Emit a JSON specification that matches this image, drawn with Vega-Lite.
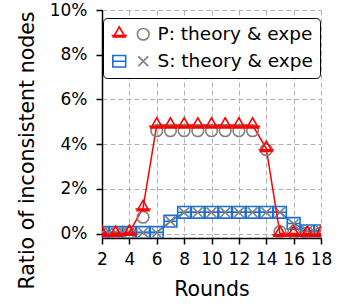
{
  "$schema": "https://vega.github.io/schema/vega-lite/v6.json",
  "width": 219,
  "height": 228,
  "autosize": {"type": "none"},
  "padding": {"left": 102, "top": 10, "right": 38, "bottom": 68},
  "background": "white",
  "config": {
    "view": {"stroke": null},
    "font": "DejaVu Sans",
    "axis": {
      "labelFont": "DejaVu Sans", "labelFontSize": 17, "labelColor": "black",
      "titleFont": "DejaVu Sans", "titleFontSize": 20.5, "titleFontWeight": "normal", "titleColor": "black",
      "domainColor": "black", "domainWidth": 1.5,
      "tickColor": "black", "tickWidth": 1.5, "tickSize": 6,
      "grid": true, "gridColor": "#b0b0b0", "gridDash": [5, 3], "gridWidth": 1
    }
  },
  "data": {
    "values": [
      {"round": 2, "value": 0.05, "series": "S theory"},
      {"round": 3, "value": 0.05, "series": "S theory"},
      {"round": 4, "value": 0.05, "series": "S theory"},
      {"round": 5, "value": 0.05, "series": "S theory"},
      {"round": 6, "value": 0.05, "series": "S theory"},
      {"round": 7, "value": 0.55, "series": "S theory"},
      {"round": 8, "value": 0.95, "series": "S theory"},
      {"round": 9, "value": 0.95, "series": "S theory"},
      {"round": 10, "value": 0.95, "series": "S theory"},
      {"round": 11, "value": 0.95, "series": "S theory"},
      {"round": 12, "value": 0.95, "series": "S theory"},
      {"round": 13, "value": 0.95, "series": "S theory"},
      {"round": 14, "value": 0.95, "series": "S theory"},
      {"round": 15, "value": 0.95, "series": "S theory"},
      {"round": 16, "value": 0.45, "series": "S theory"},
      {"round": 17, "value": 0.12, "series": "S theory"},
      {"round": 18, "value": 0.12, "series": "S theory"},
      {"round": 2, "value": 0.05, "series": "S expe"},
      {"round": 3, "value": 0.05, "series": "S expe"},
      {"round": 4, "value": 0.05, "series": "S expe"},
      {"round": 5, "value": 0.05, "series": "S expe"},
      {"round": 6, "value": 0.03, "series": "S expe"},
      {"round": 7, "value": 0.55, "series": "S expe"},
      {"round": 8, "value": 0.95, "series": "S expe"},
      {"round": 9, "value": 0.95, "series": "S expe"},
      {"round": 10, "value": 0.95, "series": "S expe"},
      {"round": 11, "value": 0.95, "series": "S expe"},
      {"round": 12, "value": 0.95, "series": "S expe"},
      {"round": 13, "value": 0.95, "series": "S expe"},
      {"round": 14, "value": 0.95, "series": "S expe"},
      {"round": 15, "value": 0.95, "series": "S expe"},
      {"round": 16, "value": 0.42, "series": "S expe"},
      {"round": 17, "value": 0.12, "series": "S expe"},
      {"round": 18, "value": 0.12, "series": "S expe"},
      {"round": 2, "value": 0.03, "series": "P expe"},
      {"round": 3, "value": 0.03, "series": "P expe"},
      {"round": 4, "value": 0.03, "series": "P expe"},
      {"round": 5, "value": 0.73, "series": "P expe"},
      {"round": 6, "value": 4.6, "series": "P expe"},
      {"round": 7, "value": 4.6, "series": "P expe"},
      {"round": 8, "value": 4.6, "series": "P expe"},
      {"round": 9, "value": 4.6, "series": "P expe"},
      {"round": 10, "value": 4.6, "series": "P expe"},
      {"round": 11, "value": 4.6, "series": "P expe"},
      {"round": 12, "value": 4.6, "series": "P expe"},
      {"round": 13, "value": 4.6, "series": "P expe"},
      {"round": 14, "value": 3.75, "series": "P expe"},
      {"round": 15, "value": 0.08, "series": "P expe"},
      {"round": 16, "value": 0.03, "series": "P expe"},
      {"round": 17, "value": 0.03, "series": "P expe"},
      {"round": 18, "value": 0.03, "series": "P expe"},
      {"round": 2, "value": 0.0, "series": "P theory"},
      {"round": 3, "value": 0.0, "series": "P theory"},
      {"round": 4, "value": 0.05, "series": "P theory"},
      {"round": 5, "value": 1.15, "series": "P theory"},
      {"round": 6, "value": 4.85, "series": "P theory"},
      {"round": 7, "value": 4.85, "series": "P theory"},
      {"round": 8, "value": 4.85, "series": "P theory"},
      {"round": 9, "value": 4.85, "series": "P theory"},
      {"round": 10, "value": 4.85, "series": "P theory"},
      {"round": 11, "value": 4.85, "series": "P theory"},
      {"round": 12, "value": 4.85, "series": "P theory"},
      {"round": 13, "value": 4.85, "series": "P theory"},
      {"round": 14, "value": 3.8, "series": "P theory"},
      {"round": 15, "value": 0.0, "series": "P theory"},
      {"round": 16, "value": 0.0, "series": "P theory"},
      {"round": 17, "value": 0.0, "series": "P theory"},
      {"round": 18, "value": 0.0, "series": "P theory"}
    ]
  },
  "encoding": {
    "x": {
      "field": "round", "type": "quantitative",
      "scale": {"domain": [2, 18], "nice": false, "zero": false},
      "axis": {"title": "Rounds", "values": [2, 4, 6, 8, 10, 12, 14, 16, 18], "labelPadding": 7, "labelFlush": false, "titleBaseline": "alphabetic", "titleY": 57}
    },
    "y": {
      "field": "value", "type": "quantitative",
      "scale": {"domain": [-0.2, 10], "nice": false, "zero": false},
      "axis": {
        "title": "Ratio of inconsistent nodes",
        "values": [0, 2, 4, 6, 8, 10],
        "labelExpr": "datum.value + '%'",
        "labelPadding": 9,
        "titleX": -69, "titleY": 140, "titleAngle": -90, "titleAlign": "center", "titleBaseline": "alphabetic"
      }
    }
  },
  "layer": [
    {
      "transform": [{"filter": "datum.series == 'S theory'"}],
      "mark": {"type": "line", "color": "#1a6fd0", "strokeWidth": 1.5, "clip": true},
      "encoding": {}
    },
    {
      "transform": [{"filter": "datum.series == 'S theory' || datum.series == 'S expe'"}],
      "mark": {"type": "point", "filled": false, "strokeWidth": 1.6, "size": 150, "clip": true, "opacity": 1},
      "encoding": {
        "color": {
          "field": "series", "type": "nominal",
          "scale": {"domain": ["P theory", "P expe", "S theory", "S expe"], "range": ["#ff0000", "#808080", "#1a6fd0", "#808080"]},
          "legend": {
            "orient": "none", "legendX": 1, "legendY": 8, "columns": 2, "direction": "horizontal", "title": null,
            "padding": 7, "rowPadding": 8, "columnPadding": 0, "labelOffset": 5, "gridAlign": "none",
            "labelFontSize": 18.5, "labelFont": "DejaVu Sans", "labelColor": "black", "labelLimit": 300,
            "symbolSize": 150, "symbolStrokeWidth": 1.6,
            "strokeColor": "black", "fillColor": "white", "cornerRadius": 4,
            "labelExpr": "datum.value == 'P expe' ? '\u2002P: theory & expe' : datum.value == 'S expe' ? '\u2002S: theory & expe' : ''",
            "encode": {"legend": {"update": {"strokeWidth": {"value": 1.5}}}}
          }
        },
        "shape": {
          "field": "series", "type": "nominal",
          "scale": {"domain": ["P theory", "P expe", "S theory", "S expe"], "range": ["M-1.25,0.2H1.25M0,-1.2L0.95,0.45H-0.95Z", "M-0.95,0A0.95,0.95 0 1,0 0.95,0A0.95,0.95 0 1,0 -0.95,0Z", "M-1.05,-0.95H1.05V0.95H-1.05ZM-1.05,0H1.05", "M-0.8,-0.8L0.8,0.8M-0.8,0.8L0.8,-0.8"]},
          "legend": {
            "orient": "none", "legendX": 1, "legendY": 8, "columns": 2, "direction": "horizontal", "title": null,
            "padding": 7, "rowPadding": 8, "columnPadding": 0, "labelOffset": 5, "gridAlign": "none",
            "labelFontSize": 18.5, "labelFont": "DejaVu Sans", "labelColor": "black", "labelLimit": 300,
            "symbolSize": 150, "symbolStrokeWidth": 1.6,
            "strokeColor": "black", "fillColor": "white", "cornerRadius": 4,
            "labelExpr": "datum.value == 'P expe' ? '\u2002P: theory & expe' : datum.value == 'S expe' ? '\u2002S: theory & expe' : ''",
            "encode": {"legend": {"update": {"strokeWidth": {"value": 1.5}}}}
          }
        }
      }
    },
    {
      "transform": [{"filter": "datum.series == 'P theory'"}],
      "mark": {"type": "line", "color": "#ff0000", "strokeWidth": 1.5, "clip": true},
      "encoding": {}
    },
    {
      "transform": [{"filter": "datum.series == 'P theory' || datum.series == 'P expe'"}],
      "mark": {"type": "point", "filled": false, "strokeWidth": 1.6, "size": 150, "clip": true, "opacity": 1},
      "encoding": {
        "color": {"field": "series", "type": "nominal"},
        "shape": {"field": "series", "type": "nominal"}
      }
    }
  ]
}
